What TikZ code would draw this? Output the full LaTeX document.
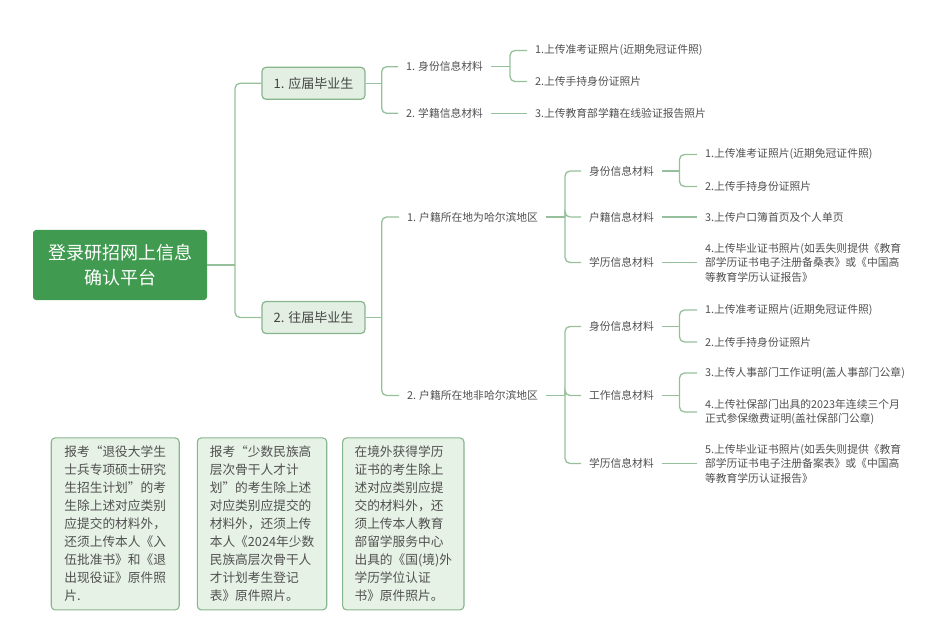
\documentclass[tikz,border=0pt]{standalone}
\usepackage{fontspec}
\setmainfont{Noto Sans CJK SC}
\definecolor{rootg}{RGB}{64,155,80}
\definecolor{nodefill}{RGB}{226,239,226}
\definecolor{nodeborder}{RGB}{135,182,140}
\definecolor{notefill}{RGB}{231,242,230}
\definecolor{linec}{RGB}{150,192,155}
\definecolor{textc}{RGB}{80,80,80}
\definecolor{textd}{RGB}{68,68,68}
\begin{document}
\begin{tikzpicture}[x=1pt,y=-1pt,
  conn/.style={draw=linec, line width=1.3pt, rounded corners=5pt},
  rootbox/.style={fill=rootg, rounded corners=3pt, minimum width=174pt, minimum height=70pt, text=white, font=\fontsize{18}{25}\selectfont, align=center, inner sep=0pt},
  topic/.style={fill=nodefill, draw=nodeborder, line width=1.2pt, rounded corners=4pt, minimum width=103pt, minimum height=32pt, text=textd, font=\fontsize{13}{16}\selectfont, inner sep=0pt},
  lbl/.style={anchor=west, inner xsep=0pt, outer xsep=8pt, inner ysep=1pt, text=textc, font=\fontsize{10.8}{14.5}\selectfont, align=left},
  note/.style={fill=notefill, draw=nodeborder, line width=1.1pt, rounded corners=4pt, minimum height=172pt, text=textc, font=\fontsize{12.7}{18}\selectfont, align=left, inner sep=0pt}
]
\useasboundingbox (0,0) rectangle (933,617);

% root and topics
\node[rootbox] (root) at (120,265) {登录研招网上信息\\确认平台};
\node[topic] (t1) at (313.5,83.3) {1. 应届毕业生};
\node[topic] (t2) at (313.5,317.5) {2. 往届毕业生};
\coordinate (j0) at (235,265);
\draw[conn] (root.east) -- (j0);
\draw[conn] (j0) |- (t1.west);
\draw[conn] (j0) |- (t2.west);

% branch 1
\node[lbl] (a1) at (398,66.7) {1. 身份信息材料};
\node[lbl] (a2) at (398,113.3) {2. 学籍信息材料};
\coordinate (j1) at (381.7,83.3);
\draw[conn] (t1.east) -- (j1);
\draw[conn] (j1) |- (a1.west);
\draw[conn] (j1) |- (a2.west);
\node[lbl] (l1) at (527,50.5) {1.上传准考证照片(近期免冠证件照)};
\node[lbl] (l2) at (527,81.5) {2.上传手持身份证照片};
\node[lbl] (l3) at (527,113.3) {3.上传教育部学籍在线验证报告照片};
\coordinate (j2) at (510,66.7);
\draw[conn] (a1.east) -- (j2);
\draw[conn] (j2) |- (l1.west);
\draw[conn] (j2) |- (l2.west);
\draw[conn] (a2.east) -- (l3.west);

% branch 2
\node[lbl] (b1) at (399,217) {1. 户籍所在地为哈尔滨地区};
\node[lbl] (b2) at (399,395.5) {2. 户籍所在地非哈尔滨地区};
\coordinate (j3) at (381.7,317.5);
\draw[conn] (t2.east) -- (j3);
\draw[conn] (j3) |- (b1.west);
\draw[conn] (j3) |- (b2.west);

% branch 2.1
\node[lbl] (c1) at (581,171) {身份信息材料};
\node[lbl] (c2) at (581,217) {户籍信息材料};
\node[lbl] (c3) at (581,262.5) {学历信息材料};
\coordinate (j4) at (565,217);
\draw[conn] (b1.east) -- (j4);
\draw[conn] (j4) |- (c1.west);
\draw[conn] (j4) |- (c2.west);
\draw[conn] (j4) |- (c3.west);
\node[lbl] (d1) at (697,154.5) {1.上传准考证照片(近期免冠证件照)};
\node[lbl] (d2) at (697,186.5) {2.上传手持身份证照片};
\node[lbl] (d3) at (697,217) {3.上传户口簿首页及个人单页};
\node[lbl] (d4) at (697,262.5) {4.上传毕业证书照片(如丢失则提供《教育\\部学历证书电子注册备桑表》或《中国高\\等教育学历认证报告》};
\coordinate (j5) at (679.5,171);
\draw[conn] (c1.east) -- (j5);
\draw[conn] (j5) |- (d1.west);
\draw[conn] (j5) |- (d2.west);
\draw[conn] (c2.east) -- (c2.east -| d3.west);
\draw[conn] (c3.east) -- (c3.east -| d4.west);

% branch 2.2
\node[lbl] (e1) at (581,326.5) {身份信息材料};
\node[lbl] (e2) at (581,395.5) {工作信息材料};
\node[lbl] (e3) at (581,463.5) {学历信息材料};
\coordinate (j6) at (565,395.5);
\draw[conn] (b2.east) -- (j6);
\draw[conn] (j6) |- (e1.west);
\draw[conn] (j6) |- (e2.west);
\draw[conn] (j6) |- (e3.west);
\node[lbl] (f1) at (697,310) {1.上传准考证照片(近期免冠证件照)};
\node[lbl] (f2) at (697,342) {2.上传手持身份证照片};
\node[lbl] (f3) at (697,373) {3.上传人事部门工作证明(盖人事部门公章)};
\node[lbl] (f4) at (697,412) {4.上传社保部门出具的2023年连续三个月\\正式参保缴费证明(盖社保部门公章)};
\node[lbl] (f5) at (697,463.5) {5.上传毕业证书照片(如丢失则提供《教育\\部学历证书电子注册备案表》或《中国高\\等教育学历认证报告》};
\coordinate (j7) at (679.5,326.5);
\coordinate (j8) at (679.5,395.5);
\draw[conn] (e1.east) -- (j7);
\draw[conn] (j7) |- (f1.west);
\draw[conn] (j7) |- (f2.west);
\draw[conn] (e2.east) -- (j8);
\draw[conn] (j8) |- (f3.west);
\draw[conn] (j8) |- (f4.west);
\draw[conn] (e3.east) -- (e3.east -| f5.west);

% notes
\node[note, minimum width=128pt] (n1) at (115.2,523.9) {报考“退役大学生\\士兵专项硕士研究\\生招生计划”的考\\生除上述对应类别\\应提交的材料外，\\还须上传本人《入\\伍批准书》和《退\\出现役证》原件照\\片.};
\node[note, minimum width=129.4pt] (n2) at (262,523.9) {报考“少数民族高\\层次骨干人才计\\划”的考生除上述\\对应类别应提交的\\材料外，还须上传\\本人《2024年少数\\民族高层次骨干人\\才计划考生登记\\表》原件照片。};
\node[note, minimum width=121.3pt] (n3) at (403.3,523.9) {在境外获得学历\\证书的考生除上\\述对应类别应提\\交的材料外，还\\须上传本人教育\\部留学服务中心\\出具的《国(境)外\\学历学位认证\\书》原件照片。};
\end{tikzpicture}
\end{document}
